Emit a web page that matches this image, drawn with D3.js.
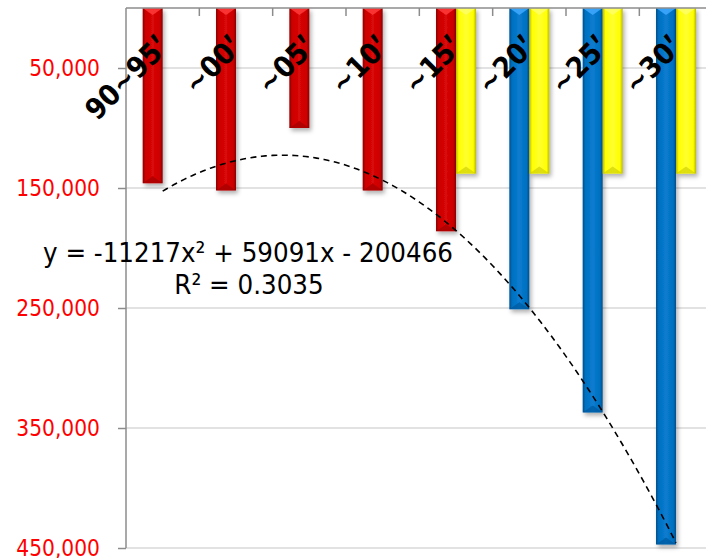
<!DOCTYPE html>
<html>
<head>
<meta charset="utf-8">
<script src="https://cdn.jsdelivr.net/npm/d3@7"></script>
<style>
  html, body { margin: 0; padding: 0; background: #fff; overflow: hidden; }
  svg { display: block; }
</style>
</head>
<body>
<svg id="chart" width="706" height="558"></svg>
<script>
// ---- data ----
const categories = ["90~95′", "~00′", "~05′", "~10′", "~15′", "~20′", "~25′", "~30′"];
const mainValues = [-146000, -152000, -100000, -152000, -186000, -251000, -337000, -447000];
const mainColors = ["red", "red", "red", "red", "red", "blue", "blue", "blue"];
const sideValues = [null, null, null, null, -138000, -138000, -138000, -138000];
const yTickValues = [-50000, -150000, -250000, -350000, -450000];
const trendCoef = { a: -11217, b: 59091, c: -200466 };
const trendLabel = "y = -11217x² + 59091x - 200466";
const r2Label = "R² = 0.3035";

// ---- layout ----
const W = 706, H = 558;
const plotLeft = 126, plotTop = 8, plotRight = 712.67, plotBottom = 548;
const svg = d3.select("#chart");

const x = d3.scaleBand().domain(categories).range([plotLeft, plotRight]).padding(0);
const y = d3.scaleLinear().domain([0, -450000]).range([plotTop, plotBottom]);
const barW = x.bandwidth() * 0.2727;

const palettes = {
  red: { base: "#cc0000", light: "#d80808", edge: "#8a0000", cap: "#ff3b3b", bottom: "#9a0000" },
  blue: { base: "#0070c0", light: "#0a7cd0", edge: "#004f8c", cap: "#3fa9ff", bottom: "#005494" },
  yellow: { base: "#ffff00", light: "#ffff30", edge: "#b8b800", cap: "#ffff66", bottom: "#c9c900" }
};

const defs = svg.append("defs");
Object.entries(palettes).forEach(([k, p]) => {
  const g = defs.append("linearGradient").attr("id", "g-" + k)
    .attr("x1", "0").attr("x2", "1").attr("y1", "0").attr("y2", "0");
  [[0, p.edge], [0.14, p.base], [0.5, p.light], [0.86, p.base], [1, p.edge]].forEach(([o, c]) =>
    g.append("stop").attr("offset", o).attr("stop-color", c));
});
const f = defs.append("filter").attr("id", "shadow").attr("x", "-30%").attr("y", "-5%").attr("width", "160%").attr("height", "115%");
f.append("feDropShadow").attr("dx", 2).attr("dy", 3).attr("stdDeviation", 2).attr("flood-color", "#000").attr("flood-opacity", 0.3);

// ---- gridlines ----
svg.append("g").selectAll("line").data(yTickValues).join("line")
  .attr("x1", plotLeft).attr("x2", W)
  .attr("y1", d => y(d)).attr("y2", d => y(d))
  .attr("stroke", "#d9d9d9").attr("stroke-width", 1.3);

// ---- bars ----
function drawBar(g, xc0, v, pal) {
  const p = palettes[pal];
  const y0 = y(0), y1 = y(v);
  const h = y1 - y0;
  const bg = g.append("g").attr("filter", "url(#shadow)");
  bg.append("rect").attr("x", xc0).attr("y", y0).attr("width", barW).attr("height", h)
    .attr("fill", "url(#g-" + pal + ")");
  const ch = Math.min(7, h / 2);
  bg.append("path").attr("d", `M${xc0},${y0}L${xc0 + barW},${y0}L${xc0 + barW / 2},${y0 + ch}Z`).attr("fill", p.cap).attr("opacity", 0.85);
  bg.append("path").attr("d", `M${xc0},${y1}L${xc0 + barW},${y1}L${xc0 + barW / 2},${y1 - ch}Z`).attr("fill", p.bottom).attr("opacity", 0.6);
}
const barsG = svg.append("g");
categories.forEach((c, i) => {
  const cx = x(c) + x.bandwidth() / 2;
  if (mainValues[i] != null) drawBar(barsG, cx - barW, mainValues[i], mainColors[i]);
  if (sideValues[i] != null) drawBar(barsG, cx, sideValues[i], "yellow");
});

// ---- axes ----
const axisColor = "#8c8c8c";
svg.append("line").attr("x1", plotLeft).attr("x2", W).attr("y1", y(0)).attr("y2", y(0)).attr("stroke", axisColor).attr("stroke-width", 1.5);
svg.append("line").attr("x1", plotLeft).attr("x2", plotLeft).attr("y1", y(0)).attr("y2", plotBottom).attr("stroke", axisColor).attr("stroke-width", 1.5);
svg.append("g").selectAll("line").data(categories.slice(1)).join("line")
  .attr("x1", d => x(d)).attr("x2", d => x(d)).attr("y1", y(0)).attr("y2", y(0) + 8)
  .attr("stroke", axisColor).attr("stroke-width", 1.5);

const yAxis = d3.axisLeft(y).tickValues(yTickValues).tickSize(8).tickPadding(18)
  .tickFormat(d => d3.format(",")(Math.abs(d)));
const ya = svg.append("g").attr("transform", `translate(${plotLeft},0)`).call(yAxis);
ya.select(".domain").remove();
ya.selectAll(".tick line").attr("stroke", axisColor).attr("stroke-width", 1.5);
ya.selectAll(".tick text").attr("fill", "#ff0000")
  .style("font-family", "'DejaVu Sans Condensed', 'DejaVu Sans', sans-serif").style("font-size", "22.5px");

// ---- trendline ----
const trendXs = d3.range(1, 8.001, 0.05);
const xPos = t => plotLeft + (t - 0.5) * x.bandwidth();
const trendLine = d3.line().x(t => xPos(t)).y(t => y(trendCoef.a * t * t + trendCoef.b * t + trendCoef.c));
svg.append("path").datum(trendXs).attr("d", trendLine).attr("fill", "none")
  .attr("stroke", "#000").attr("stroke-width", 1.6).attr("stroke-dasharray", "6,4.5");

// ---- category labels ----
const labels = svg.append("g").selectAll("text").data(categories).join("text")
  .attr("transform", d => `translate(${x(d) + x.bandwidth() / 2 + 8},${48}) rotate(-45)`)
  .attr("text-anchor", "end")
  .style("font-family", "'DejaVu Sans Condensed', 'DejaVu Sans', sans-serif")
  .style("font-weight", "bold").style("font-size", "29px").attr("fill", "#000");
labels.append("tspan").text(d => d.slice(0, -1));
labels.append("tspan").style("font-family", "'Noto Sans CJK JP', sans-serif").style("font-weight", "bold")
  .text(d => d.slice(-1));

// ---- equation ----
const eq = svg.append("text").attr("x", 248).attr("y", 262).attr("text-anchor", "middle")
  .style("font-family", "'DejaVu Sans Condensed', 'DejaVu Sans', sans-serif").style("font-size", "22px")
  .attr("fill", "#000").text(trendLabel);
const eqW = eq.node().getComputedTextLength();
const fs = 22 * 410 / eqW;
eq.style("font-size", fs + "px");
svg.append("text").attr("x", 249).attr("y", 294).attr("text-anchor", "middle")
  .style("font-family", "'DejaVu Sans Condensed', 'DejaVu Sans', sans-serif").style("font-size", fs + "px")
  .attr("fill", "#000").text(r2Label);
</script>
</body>
</html>
